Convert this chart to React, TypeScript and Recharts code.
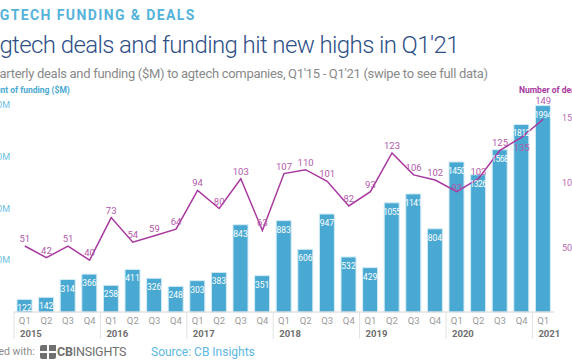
import React from 'react';
import { ComposedChart, Bar, Line, XAxis, YAxis, LabelList } from 'recharts';

const years = ['2015', '2015', '2015', '2015', '2016', '2016', '2016', '2016', '2017', '2017', '2017', '2017', '2018', '2018', '2018', '2018', '2019', '2019', '2019', '2019', '2020', '2020', '2020', '2020', '2021'];
const quarters = ['Q1', 'Q2', 'Q3', 'Q4', 'Q1', 'Q2', 'Q3', 'Q4', 'Q1', 'Q2', 'Q3', 'Q4', 'Q1', 'Q2', 'Q3', 'Q4', 'Q1', 'Q2', 'Q3', 'Q4', 'Q1', 'Q2', 'Q3', 'Q4', 'Q1'];
const funding = [122, 142, 314, 366, 258, 411, 326, 248, 303, 383, 843, 351, 883, 606, 947, 532, 429, 1055, 1141, 804, 1450, 1326, 1568, 1812, 1994];
const deals = [51, 42, 51, 40, 73, 54, 59, 64, 94, 80, 103, 63, 107, 110, 101, 82, 93, 123, 106, 102, 93, 103, 125, 135, 149];
const fundingTicks = [500, 1000, 1500, 2000];
const dealTicks = [50, 100, 150];

const data = years.map((y, i) => ({
  id: `${y}-${quarters[i]}`,
  year: y,
  q: quarters[i],
  funding: funding[i],
  deals: deals[i],
}));

const BLUE = '#4aa9d2';
const PURPLE = '#a8389f';
const FONT = 'Roboto, "Noto Sans", sans-serif';
const AXIS_Y = 312;

// label nudges (style only) to mimic the reference's label placement
const dealLabelShift: Record<number, number> = { 20: 3, 23: 18, 24: -11 };

const QuarterTick = (props: any) => {
  const { x, payload } = props;
  const [year, q] = String(payload.value).split('-');
  const half = payload && payload.offset ? payload.offset : 10.8;
  const left = x - half;
  return (
    <g>
      <text x={x} y={AXIS_Y + 11.5} textAnchor="middle" fill="#9a9a9a" fontSize={9.5} fontFamily={FONT}>
        {q}
      </text>
      {q === 'Q1' && (
        <g>
          <line x1={left} x2={left} y1={AXIS_Y} y2={AXIS_Y + 27} stroke="#e2e2e2" strokeWidth={1} />
          <text x={left + 6} y={AXIS_Y + 24.5} textAnchor="start" fill="#6e6e6e" fontSize={9.5} fontWeight={700} fontFamily={FONT}>
            {year}
          </text>
        </g>
      )}
    </g>
  );
};

const BarValueLabel = (props: any) => {
  const { x, y, width, value } = props;
  const long = String(value).length > 3;
  return (
    <text
      x={x + width / 2}
      y={y + 12}
      textAnchor="middle"
      fill="#ffffff"
      fontSize={8.5}
      letterSpacing={long ? -0.5 : 0}
      fontFamily={FONT}
    >
      {value}
    </text>
  );
};

const DealLabel = (props: any) => {
  const { x, y, value, index } = props;
  const shift = dealLabelShift[index] || 0;
  return (
    <text x={x} y={y - 4 + shift} textAnchor="middle" fill="#b35aa9" fontSize={9.5} fontFamily={FONT}>
      {value}
    </text>
  );
};

const abs = (style: React.CSSProperties): React.CSSProperties => ({
  position: 'absolute',
  whiteSpace: 'nowrap',
  lineHeight: 1,
  fontFamily: FONT,
  ...style,
});

export default function App() {
  return (
    <div style={{ position: 'fixed', left: 0, top: 0, width: 572, height: 364, overflow: 'hidden', background: '#fff' }}>
      <div style={abs({ left: -11, top: 8, fontSize: 14, fontWeight: 700, letterSpacing: '1.4px', color: '#55b3da' })}>
        AGTECH FUNDING &amp; DEALS
      </div>
      <div style={abs({ left: -15, top: 33, fontSize: 24, fontWeight: 300, letterSpacing: '-0.6px', color: '#2e4f86' })}>
        Agtech deals and funding hit new highs in Q1'21
      </div>
      <div style={abs({ left: -16, top: 67, fontSize: 13, fontWeight: 400, letterSpacing: '-0.3px', color: '#8a8a8a' })}>
        Quarterly deals and funding ($M) to agtech companies, Q1'15 - Q1'21 (swipe to see full data)
      </div>
      <div style={abs({ left: -22, top: 86, fontSize: 8.5, fontWeight: 700, color: BLUE })}>
        Amount of funding ($M)
      </div>
      <div style={abs({ left: 519, top: 86, fontSize: 8.5, fontWeight: 700, color: PURPLE })}>
        Number of deals
      </div>

      <div style={{ position: 'absolute', left: 0, top: 0 }}>
        <ComposedChart width={572} height={364} data={data} margin={{ top: 105, right: 0, left: 0, bottom: 22 }}>
          <XAxis
            dataKey="id"
            height={30}
            tick={<QuarterTick />}
            tickLine={false}
            axisLine={{ stroke: '#d6d6d6' }}
            interval={0}
          />
          <YAxis
            yAxisId="f"
            orientation="left"
            width={14}
            domain={[0, 2000]}
            ticks={fundingTicks}
            axisLine={false}
            tickLine={false}
            tickSize={2}
            tick={{ fill: '#6cbfe3', fontSize: 9, fontFamily: FONT }}
            tickFormatter={(v: number) => `$${v.toLocaleString('en-US')}M`}
          />
          <YAxis
            yAxisId="d"
            orientation="right"
            width={18}
            domain={[0, 160]}
            ticks={dealTicks}
            axisLine={false}
            tickLine={false}
            tick={{ fill: '#b86bb0', fontSize: 9, fontFamily: FONT, textAnchor: 'start' }}
          />
          <Bar yAxisId="f" dataKey="funding" fill={BLUE} stroke="#d4ecf6" strokeWidth={1} barSize={15} isAnimationActive={false}>
            <LabelList dataKey="funding" content={<BarValueLabel />} />
          </Bar>
          <Line
            yAxisId="d"
            type="linear"
            dataKey="deals"
            stroke={PURPLE}
            strokeWidth={1.5}
            dot={false}
            activeDot={false}
            isAnimationActive={false}
          >
            <LabelList dataKey="deals" content={<DealLabel />} />
          </Line>
        </ComposedChart>
      </div>

      <div style={abs({ left: -31, top: 347, fontSize: 10.5, color: '#8c8c8c' })}>Powered with:</div>
      <svg style={{ position: 'absolute', left: 40, top: 345 }} width={16} height={14}>
        <rect x={0} y={0} width={16} height={14} rx={2} fill="#707070" />
        <rect x={7} y={0} width={2} height={14} fill="#fff" />
        <rect x={0} y={6} width={16} height={2} fill="#fff" />
        <rect x={9} y={0} width={7} height={6} fill="#707070" />
      </svg>
      <div style={abs({ left: 57, top: 346, fontSize: 12.5, color: '#6e6e6e', letterSpacing: '-0.2px' })}>
        <span style={{ fontWeight: 700 }}>CB</span>INSIGHTS
      </div>
      <div style={abs({ left: 151, top: 346, fontSize: 12, color: '#5cb8e0' })}>Source: CB Insights</div>
    </div>
  );
}
